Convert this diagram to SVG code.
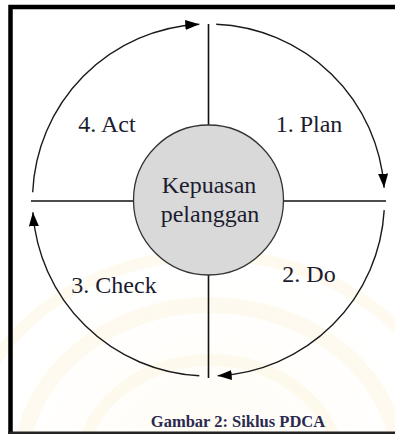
<svg xmlns="http://www.w3.org/2000/svg" width="395" height="434" viewBox="0 0 395 434">
  <style>
    .ring { fill: none; stroke: #1a1a1a; stroke-width: 1.4; }
    .axis { stroke: #111; stroke-width: 1.6; }
    .label { font-family: "Times New Roman", "Liberation Serif", Tinos, "DejaVu Serif", serif; font-size: 24px; font-weight: normal; fill: #1c1c30; text-anchor: middle; }
    .caption { font-family: "Times New Roman", "Liberation Serif", Tinos, "DejaVu Serif", serif; font-size: 16.5px; font-weight: bold; fill: #2a2a50; text-anchor: middle; }
    .wm { fill: none; stroke: #fcf1d4; opacity: 0.35; }
  </style>
  <defs>
    <marker id="head" markerUnits="userSpaceOnUse" markerWidth="15" markerHeight="11" refX="14" refY="5" orient="auto">
      <path d="M0,0 L14,5 L0,10 Z" fill="#000"/>
    </marker>
    <radialGradient id="haze" cx="210" cy="470" r="260" gradientUnits="userSpaceOnUse">
      <stop offset="0" stop-color="#fffaec" stop-opacity="0.8"/>
      <stop offset="1" stop-color="#ffffff" stop-opacity="0"/>
    </radialGradient>
  </defs>

  <rect width="395" height="434" fill="#fff"/>

  <!-- faint background emblem in the lower area -->
  <g id="emblem">
    <rect x="0" y="280" width="395" height="154" fill="url(#haze)"/>
    <ellipse class="wm" cx="210" cy="470" rx="130" ry="110" stroke-width="12"/>
    <ellipse class="wm" cx="210" cy="470" rx="190" ry="165" stroke-width="16"/>
    <ellipse class="wm" cx="210" cy="470" rx="250" ry="215" stroke-width="12"/>
  </g>

  <!-- frame -->
  <path d="M395,7 H10.5 V434" fill="none" stroke="#000" stroke-width="4.5"/>
  <line x1="8" y1="432.8" x2="395" y2="432.8" stroke="#222" stroke-width="2.6"/>

  <!-- dividing axes and cycle arcs -->
  <g id="connectors">
    <line class="axis" x1="208.5" y1="24" x2="208.5" y2="378"/>
    <line class="axis" x1="31" y1="201" x2="386" y2="201"/>
    <path id="arc-plan" class="ring" d="M216.2,24.2 A176,176 0 0 1 384.1,187.7" marker-end="url(#head)"/>
    <path id="arc-do" class="ring" d="M384.2,210.1 A176,176 0 0 1 217.7,375.8" marker-end="url(#head)"/>
    <path id="arc-check" class="ring" d="M199.3,375.8 A176,176 0 0 1 32.9,212.3" marker-end="url(#head)"/>
    <path id="arc-act" class="ring" d="M32.7,192.3 A176,176 0 0 1 199.3,24.2" marker-end="url(#head)"/>
  </g>

  <g id="center">
    <circle cx="208.5" cy="200" r="75" fill="#d9d9d9" stroke="#333" stroke-width="1.3"/>
    <text class="label" x="209" y="193">Kepuasan</text>
    <text class="label" x="210" y="222">pelanggan</text>
  </g>

  <g id="plan"><text class="label" x="309" y="132">1. Plan</text></g>
  <g id="do"><text class="label" x="309" y="282">2. Do</text></g>
  <g id="check"><text class="label" x="114" y="293">3. Check</text></g>
  <g id="act"><text class="label" x="107" y="132">4. Act</text></g>

  <text class="caption" x="238" y="427">Gambar 2: Siklus PDCA</text>
</svg>
